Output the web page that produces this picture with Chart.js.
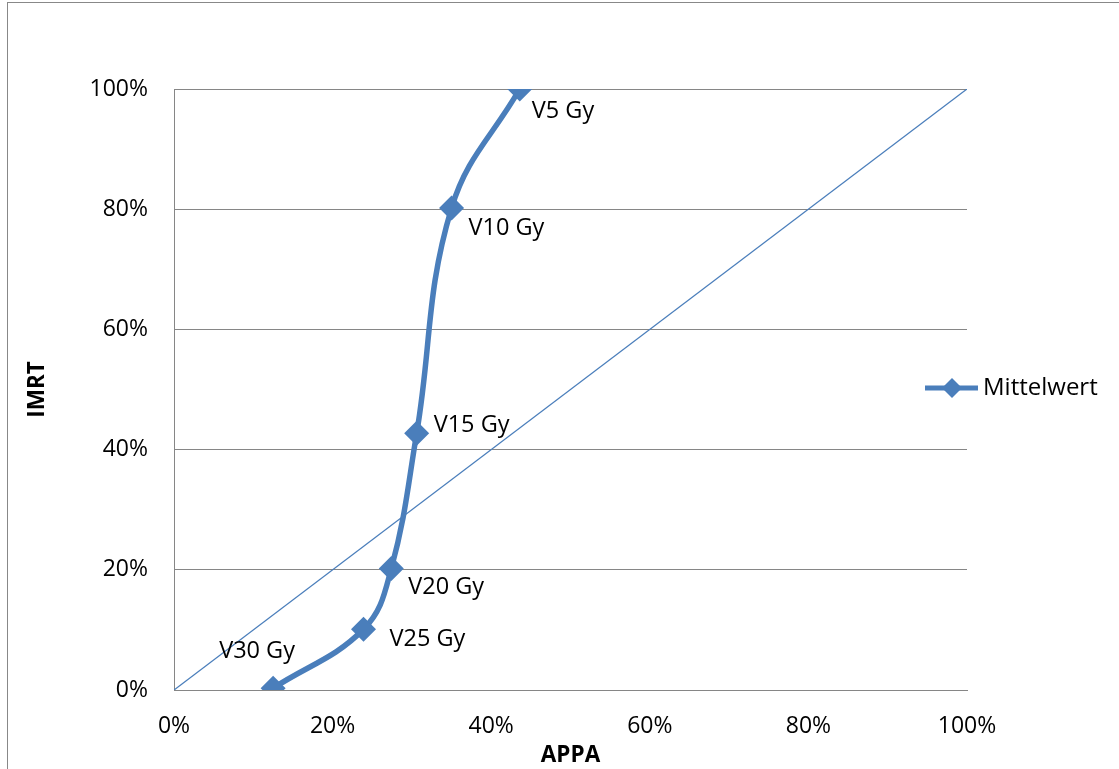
<!DOCTYPE html>
<html>
<head>
<meta charset="utf-8">
<script src="https://cdn.jsdelivr.net/npm/chart.js@4"></script>
<style>
  html, body { margin: 0; padding: 0; background: #fff; overflow: hidden; }
  #wrap { position: relative; width: 1119px; height: 769px; }
  #frame { position: absolute; left: 7px; top: 2px; width: 1300px; height: 900px; border: 1px solid #888; }
  canvas { position: absolute; left: 0; top: 0; }
</style>
</head>
<body>
<div id="wrap">
  <div id="frame"></div>
  <canvas id="dvhChart" width="1119" height="769"></canvas>
</div>
<script>
// dose levels and mean values (percent)
const doseLabels = ['V5 Gy', 'V10 Gy', 'V15 Gy', 'V20 Gy', 'V25 Gy', 'V30 Gy'];
const appaValues = [43.6, 35.0, 30.6, 27.4, 23.9, 12.5];
const imrtValues = [100, 80.2, 42.7, 20.2, 10.1, 0.3];
const diagonalX = [0, 100];
const diagonalY = [0, 100];
const seriesName = 'Mittelwert';

const blue = '#4A7EBB';
const fontFamily = '"Open Sans", sans-serif';

// label offsets from each point, in px
const labelOffsets = [[12, 22], [17, 20], [17, -8], [17, 19], [26, 10], [-54, -37]];

const pointLabels = {
    id: 'pointLabels',
    afterDatasetsDraw(chart) {
        const ctx = chart.ctx;
        const meta = chart.getDatasetMeta(0);
        ctx.save();
        ctx.font = '23.5px ' + fontFamily;
        ctx.fillStyle = '#000';
        ctx.textBaseline = 'middle';
        ctx.textAlign = 'left';
        meta.data.forEach(function (pt, i) {
            ctx.fillText(doseLabels[i], pt.x + labelOffsets[i][0], pt.y + labelOffsets[i][1]);
        });
        ctx.restore();
    }
};

const sideLegend = {
    id: 'sideLegend',
    afterDraw(chart) {
        const ctx = chart.ctx;
        const y = 388;
        ctx.save();
        ctx.strokeStyle = blue;
        ctx.lineWidth = 5;
        ctx.beginPath();
        ctx.moveTo(925, y);
        ctx.lineTo(978, y);
        ctx.stroke();
        ctx.fillStyle = blue;
        ctx.beginPath();
        ctx.moveTo(952, y - 10);
        ctx.lineTo(962, y);
        ctx.lineTo(952, y + 10);
        ctx.lineTo(942, y);
        ctx.closePath();
        ctx.fill();
        ctx.font = '24px ' + fontFamily;
        ctx.fillStyle = '#000';
        ctx.textBaseline = 'middle';
        ctx.fillText(seriesName, 983, y);
        ctx.restore();
    }
};

new Chart(document.getElementById('dvhChart'), {
    type: 'line',
    data: {
        datasets: [{
            label: seriesName,
            data: appaValues.map((x, i) => ({ x: x, y: imrtValues[i] })),
            borderColor: blue,
            backgroundColor: blue,
            borderWidth: 5.5,
            tension: 0.4,
            pointStyle: 'rectRot',
            pointRadius: 12.5,
            pointHoverRadius: 12.5,
            pointBorderWidth: 0
        }, {
            label: 'diag',
            data: diagonalX.map((x, i) => ({ x: x, y: diagonalY[i] })),
            borderColor: blue,
            borderWidth: 1.3,
            pointRadius: 0,
            tension: 0
        }]
    },
    options: {
        responsive: false,
        animation: false,
        layout: { padding: { top: 89, right: 152, left: 20, bottom: 0 } },
        plugins: { legend: { display: false }, tooltip: { enabled: false } },
        scales: {
            x: {
                type: 'linear',
                min: 0, max: 100,
                afterFit(scale) { scale.height = 79; },
                grid: { display: false, drawTicks: false },
                border: { color: '#868686', width: 1 },
                ticks: {
                    stepSize: 20, padding: 23, color: '#000',
                    font: { family: fontFamily, size: 23 },
                    callback: v => v + '%'
                },
                title: {
                    display: true, text: 'APPA', color: '#000',
                    padding: { top: 4, bottom: 0 },
                    font: { family: fontFamily, size: 22.5, weight: 'bold' }
                }
            },
            y: {
                min: 0, max: 100,
                afterFit(scale) { scale.width = 154; },
                grid: { color: '#868686', drawTicks: false },
                border: { color: '#868686', width: 1 },
                ticks: {
                    stepSize: 20, padding: 26, color: '#000',
                    font: { family: fontFamily, size: 23 },
                    callback: v => v + '%'
                },
                title: {
                    display: true, text: 'IMRT', color: '#000',
                    font: { family: fontFamily, size: 22.5, weight: 'bold' }
                }
            }
        }
    },
    plugins: [pointLabels, sideLegend]
});
</script>
</body>
</html>
